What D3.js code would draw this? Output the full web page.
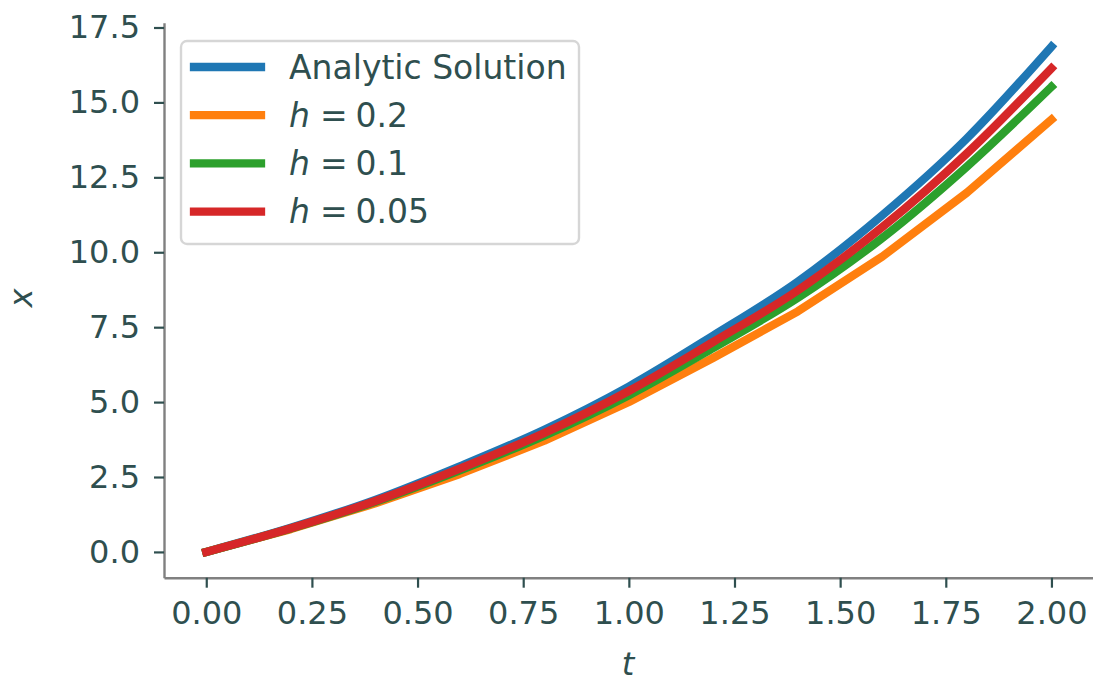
<!DOCTYPE html>
<html>
<head>
<meta charset="utf-8">
<script src="https://cdn.jsdelivr.net/npm/d3@7"></script>
<style>
  html, body { margin: 0; padding: 0; background: #fff; }
  svg { display: block; font-family: "DejaVu Sans", sans-serif; }
</style>
</head>
<body>
<div id="chart"></div>
<script>
// values
const tSmooth = [0.0, 0.2, 0.4, 0.6, 0.8, 1.0, 1.2, 1.4, 1.6, 1.8, 2.0];
const xAnalytic = [0.00, 0.81, 1.74, 2.86, 4.08, 5.52, 7.22, 9.02, 11.24, 13.80, 16.86];
const xH005 = [0.00, 0.79, 1.70, 2.78, 3.97, 5.37, 7.01, 8.73, 10.84, 13.30, 16.14];
const xH01 = [0.00, 0.78, 1.67, 2.72, 3.88, 5.23, 6.81, 8.48, 10.48, 12.86, 15.52];

const tH02 = [0.0, 0.2, 0.4, 0.6, 0.8, 1.0, 1.2, 1.4, 1.6, 1.8, 2.0];
const xH02 = [0.00, 0.76, 1.62, 2.60, 3.71, 5.00, 6.48, 8.03, 9.86, 11.99, 14.43];

const xTicks = [0, 0.25, 0.5, 0.75, 1.0, 1.25, 1.5, 1.75, 2.0];
const yTicks = [0, 2.5, 5, 7.5, 10, 12.5, 15, 17.5];

const seriesNames = ["Analytic Solution", "h = 0.2", "h = 0.1", "h = 0.05"];
const seriesColors = ["#1f77b4", "#ff7f0e", "#2ca02c", "#d62728"];

(function () {
  const WIDTH = 1093;
  const HEIGHT = 683;
  const TEXT = "#2f4f4f";
  const SPINE = "#808080";
  const FONT = 32;
  const LEGEND_FONT = 33;

  const svg = d3.select("#chart").append("svg")
    .attr("width", WIDTH)
    .attr("height", HEIGHT);

  const x = d3.scaleLinear().domain([-0.1, 2.1]).range([164, 1093.7]);
  const y = d3.scaleLinear().domain([-0.86, 17.66]).range([577.7, 22.7]);

  // series in draw order (red ends on top)
  const series = [
    { name: seriesNames[0], color: seriesColors[0], pts: tSmooth.map((t, i) => [t, xAnalytic[i]]), curve: d3.curveMonotoneX },
    { name: seriesNames[1], color: seriesColors[1], pts: tH02.map((t, i) => [t, xH02[i]]), curve: d3.curveLinear },
    { name: seriesNames[2], color: seriesColors[2], pts: tSmooth.map((t, i) => [t, xH01[i]]), curve: d3.curveMonotoneX },
    { name: seriesNames[3], color: seriesColors[3], pts: tSmooth.map((t, i) => [t, xH005[i]]), curve: d3.curveMonotoneX },
  ];

  // axes
  const yAxis = svg.append("g")
    .attr("transform", `translate(${x.range()[0]},0)`)
    .call(d3.axisLeft(y).tickValues(yTicks).tickFormat(d3.format(".1f"))
      .tickSize(10).tickSizeOuter(0).tickPadding(14));

  const xAxis = svg.append("g")
    .attr("transform", `translate(0,${y.range()[0]})`)
    .call(d3.axisBottom(x).tickValues(xTicks).tickFormat(d3.format(".2f"))
      .tickSize(10).tickSizeOuter(0).tickPadding(14));

  [yAxis, xAxis].forEach(ax => {
    ax.select(".domain").attr("stroke", SPINE).attr("stroke-width", 2.4);
    ax.selectAll(".tick line").attr("stroke", TEXT).attr("stroke-width", 2.2);
    ax.selectAll(".tick text")
      .attr("fill", TEXT)
      .style("font-family", "DejaVu Sans")
      .style("font-size", FONT + "px");
  });

  // axis labels
  svg.append("text")
    .attr("transform", `translate(32, 298) rotate(-90)`)
    .attr("text-anchor", "middle")
    .attr("fill", TEXT)
    .style("font-size", FONT + "px")
    .style("font-style", "italic")
    .text("x");

  svg.append("text")
    .attr("x", 628)
    .attr("y", 675)
    .attr("text-anchor", "middle")
    .attr("fill", TEXT)
    .style("font-size", FONT + "px")
    .style("font-style", "italic")
    .text("t");

  // lines
  const plot = svg.append("g").attr("class", "lines");
  series.forEach(s => {
    const line = d3.line()
      .x(d => x(d[0]))
      .y(d => y(d[1]))
      .curve(s.curve);
    plot.append("path")
      .datum(s.pts)
      .attr("d", line)
      .attr("fill", "none")
      .attr("stroke", s.color)
      .attr("stroke-width", 8.3)
      .attr("stroke-linecap", "square")
      .attr("stroke-linejoin", "round");
  });

  // legend
  const legend = svg.append("g").attr("class", "legend");
  legend.append("rect")
    .attr("x", 181)
    .attr("y", 41)
    .attr("width", 398)
    .attr("height", 203)
    .attr("rx", 6)
    .attr("fill", "rgba(255,255,255,0.8)")
    .attr("stroke", "#d6d6d6")
    .attr("stroke-width", 2.4);

  const items = legend.selectAll("g.item")
    .data(series)
    .enter()
    .append("g")
    .attr("class", "item")
    .attr("transform", (d, i) => `translate(0, ${67 + i * 48.2})`);

  items.append("line")
    .attr("x1", 194)
    .attr("x2", 261)
    .attr("stroke", d => d.color)
    .attr("stroke-width", 8.3)
    .attr("stroke-linecap", "square");

  items.each(function (d) {
    const txt = d3.select(this).append("text")
      .attr("x", 289)
      .attr("y", 11.5)
      .attr("fill", TEXT)
      .style("font-size", LEGEND_FONT + "px");
    if (d.name.startsWith("h = ")) {
      txt.append("tspan").style("font-style", "italic").text("h");
      txt.append("tspan").attr("dx", 10).text("=");
      txt.append("tspan").attr("dx", 8).text(d.name.slice(4));
    } else {
      txt.text(d.name);
    }
  });
})();
</script>
</body>
</html>
